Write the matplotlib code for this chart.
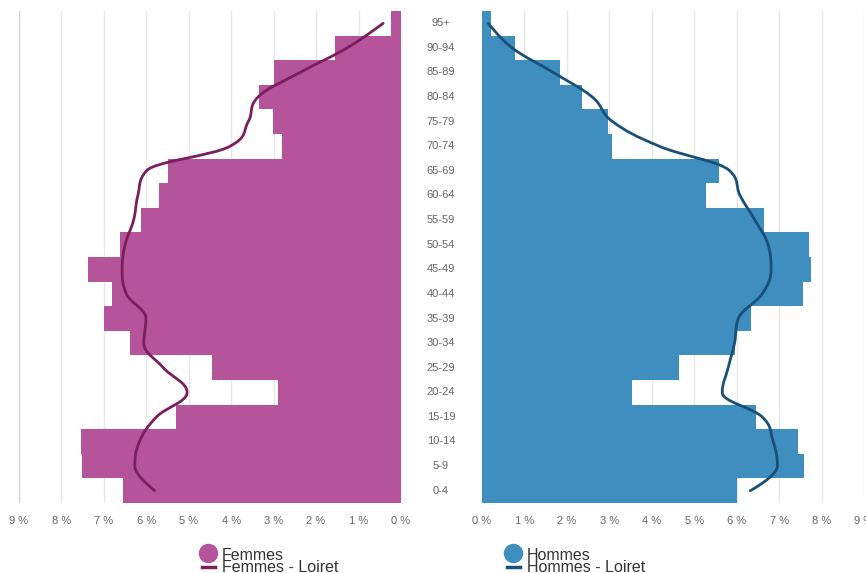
import numpy as np
import matplotlib
matplotlib.use("Agg")
import matplotlib.pyplot as plt
from matplotlib.path import Path
from matplotlib.patches import PathPatch
import matplotlib.transforms as mtransforms
from matplotlib.lines import Line2D

# ---------------- data (bottom -> top) ----------------
categories = ["0-4", "5-9", "10-14", "15-19", "20-24", "25-29", "30-34", "35-39",
              "40-44", "45-49", "50-54", "55-59", "60-64", "65-69", "70-74",
              "75-79", "80-84", "85-89", "90-94", "95+"]

femmes = [6.56, 7.52, 7.55, 5.31, 2.90, 4.46, 6.39, 7.00, 6.82, 7.38,
          6.63, 6.13, 5.71, 5.50, 2.81, 3.02, 3.35, 3.00, 1.56, 0.24]
hommes = [6.00, 7.59, 7.45, 6.46, 3.53, 4.64, 5.97, 6.34, 7.57, 7.76,
          7.71, 6.65, 5.28, 5.59, 3.07, 2.97, 2.36, 1.83, 0.78, 0.22]
femmes_loiret = [5.80, 6.27, 6.16, 5.76, 5.04, 5.60, 6.06, 6.01, 6.47, 6.57,
                 6.50, 6.30, 6.20, 6.00, 4.03, 3.60, 3.37, 2.38, 1.27, 0.42]
hommes_loiret = [6.32, 6.96, 6.86, 6.60, 5.66, 5.80, 5.95, 6.04, 6.60, 6.81,
                 6.74, 6.43, 6.08, 5.84, 4.18, 3.08, 2.60, 1.68, 0.71, 0.15]
x_ticks = [0, 1, 2, 3, 4, 5, 6, 7, 8, 9]
x_tick_labels = ["%d %%" % t for t in x_ticks]

C_F = "#b5549b"
C_H = "#3e8ebf"
C_FL = "#7a1f5e"
C_HL = "#1a4f78"
GRID = "#e6e6e6"
TXT = "#666666"


def spline_path(xs, ys, smoothing=1.5):
    """Highcharts-like spline; xs = category position, ys = value.
    Returns Path in (value, category) coordinates."""
    n = len(xs)
    denom = smoothing + 1
    rc = [None] * n
    lc = [None] * n
    for i in range(1, n - 1):
        px, py = xs[i], ys[i]
        lx, ly = xs[i - 1], ys[i - 1]
        nx, ny = xs[i + 1], ys[i + 1]
        lcx = (smoothing * px + lx) / denom
        lcy = (smoothing * py + ly) / denom
        rcx = (smoothing * px + nx) / denom
        rcy = (smoothing * py + ny) / denom
        corr = 0.0
        if rcx != lcx:
            corr = (rcy - lcy) * (rcx - px) / (rcx - lcx) + py - rcy
        lcy += corr
        rcy += corr
        if lcy > ly and lcy > py:
            lcy = max(ly, py)
            rcy = 2 * py - lcy
        elif lcy < ly and lcy < py:
            lcy = min(ly, py)
            rcy = 2 * py - lcy
        if rcy > ny and rcy > py:
            rcy = max(ny, py)
            lcy = 2 * py - rcy
        elif rcy < ny and rcy < py:
            rcy = min(ny, py)
            lcy = 2 * py - rcy
        lc[i] = (lcx, lcy)
        rc[i] = (rcx, rcy)
    verts = [(ys[0], xs[0])]
    codes = [Path.MOVETO]
    for i in range(1, n):
        a = rc[i - 1] if rc[i - 1] is not None else (xs[i - 1], ys[i - 1])
        b = lc[i] if lc[i] is not None else (xs[i], ys[i])
        verts += [(a[1], a[0]), (b[1], b[0]), (ys[i], xs[i])]
        codes += [Path.CURVE4, Path.CURVE4, Path.CURVE4]
    return Path(verts, codes)


W, H = 866, 573
fig = plt.figure(figsize=(W / 100, H / 100), dpi=100)
plt.rcParams['font.family'] = ['Liberation Sans', 'DejaVu Sans']

top_px, bot_px = 11, 503
axb = (H - bot_px) / H
axh = (bot_px - top_px) / H
axL = fig.add_axes([19 / W, axb, 382 / W, axh])
axR = fig.add_axes([482 / W, axb, 382 / W, axh])

ypos = np.arange(len(categories))

for ax, vals, line_vals, col, lcol in [
        (axL, femmes, femmes_loiret, C_F, C_FL),
        (axR, hommes, hommes_loiret, C_H, C_HL)]:
    ax.set_ylim(-0.5, len(categories) - 0.5)
    ax.set_xlim(0, 9)
    for s in ax.spines.values():
        s.set_visible(False)
    ax.set_yticks([])
    ax.set_xticks(x_ticks)
    ax.set_xticklabels(x_tick_labels, fontsize=8, color=TXT)
    ax.tick_params(axis='x', length=0, pad=9)
    for t in x_ticks:
        ax.axvline(t, color=GRID, lw=1, zorder=0)
    ax.barh(ypos, vals, height=1.0, color=col, zorder=2, linewidth=0)
    p = spline_path(list(ypos.astype(float)), list(line_vals))
    ax.add_patch(PathPatch(p, facecolor='none', edgecolor=lcol, lw=2, zorder=3,
                           capstyle='round'))

axL.invert_xaxis()
axL.axvline(9, color="#ccd6eb", lw=1, zorder=1)

# category labels in the middle
trans = mtransforms.blended_transform_factory(fig.transFigure, axL.transData)
for i, c in enumerate(categories):
    fig.text(441 / W, i, c, transform=trans, ha='center', va='center',
             fontsize=8, color=TXT)

# legends
def legend_block(cx, col, lcol, name1, name2):
    y1 = 1 - 553 / H
    y2 = 1 - 567 / H
    fig.add_artist(Line2D([cx / W], [y1], marker='o', markersize=13,
                          color=col, linestyle='none', transform=fig.transFigure))
    fig.add_artist(Line2D([(cx - 6.5) / W, (cx + 6.5) / W], [y2, y2], color=lcol,
                          lw=2.5, transform=fig.transFigure))
    fig.text((cx + 14) / W, 1 - 560 / H, name1, fontsize=11.5, color="#333333",
             ha='left', va='baseline')
    fig.text((cx + 14) / W, 1 - 571.5 / H, name2, fontsize=11.5, color="#333333",
             ha='left', va='baseline')

legend_block(208, C_F, C_FL, "Femmes", "Femmes - Loiret")
legend_block(513, C_H, C_HL, "Hommes", "Hommes - Loiret")

fig.savefig("out.png", dpi=100)
